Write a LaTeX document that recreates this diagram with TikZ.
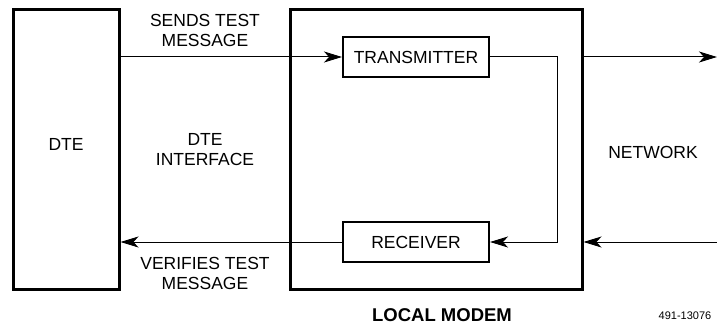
\documentclass[tikz,border=0pt]{standalone}
\usepackage{fontspec}
\setmainfont{Liberation Sans}
\usetikzlibrary{arrows.meta}
\tikzset{
  bigbox/.style = {draw, line width=3pt, inner sep=0pt},
  unitbox/.style = {draw, line width=2pt, minimum width=146, minimum height=40, inner sep=0pt},
  lbl/.style = {align=center, font=\fontsize{17.5}{20}\selectfont},
  link/.style = {line width=1pt, -{Stealth[length=18pt, width=11pt, inset=5pt]}}
}
\begin{document}
\begin{tikzpicture}[x=1pt, y=-1pt]
\useasboundingbox (0,0) rectangle (717,326);
\node[bigbox, minimum width=106, minimum height=279] (dte) at (66,149.5) {};
\node[lbl] at (66,144) {DTE};
\node[bigbox, minimum width=292, minimum height=279] (modem) at (436,149.5) {};
\node[unitbox, lbl] (tx) at (416,57) {TRANSMITTER};
\node[unitbox, lbl] (rx) at (416,242) {RECEIVER};
\coordinate (netout) at (717,57);
\coordinate (netin) at (717,242);
% dte side
\draw[link] (dte.east |- tx) -- (tx.west);
\draw[link] (rx.west) -- (dte.east |- rx);
% loop back inside the modem
\draw[link] (tx.east) -- ++(67,0) |- (rx.east);
% network side
\draw[link] (modem.east |- tx) -- (netout);
\draw[link] (netin) -- (modem.east |- rx);
\node[lbl] at (205,30) {SENDS TEST\\MESSAGE};
\node[lbl] at (205,150) {DTE\\INTERFACE};
\node[lbl] at (205,273) {VERIFIES TEST\\MESSAGE};
\node[lbl] at (653,152) {NETWORK};
\node[inner sep=0pt, font=\fontsize{18.5}{20}\selectfont\bfseries] at (442,315.5) {LOCAL MODEM};
\node[inner sep=0pt, font=\fontsize{11}{12}\selectfont] at (685,316) {491-13076};
\end{tikzpicture}
\end{document}
